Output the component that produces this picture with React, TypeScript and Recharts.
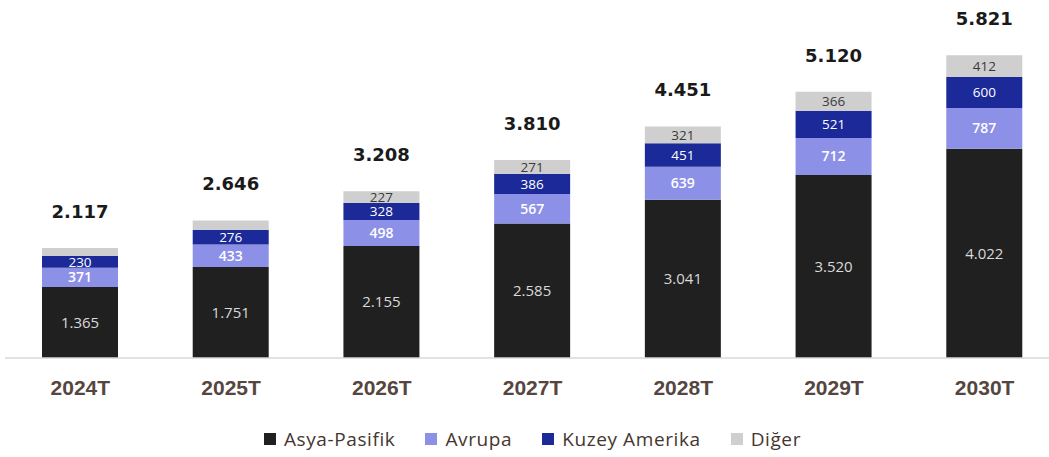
import { Bar, BarChart, LabelList, Legend, XAxis, YAxis } from "recharts";

// ─── Data ─────────────────────────────────────────────────────────────────────

const years = ["2024T", "2025T", "2026T", "2027T", "2028T", "2029T", "2030T"];
const asyaPasifik = [1365, 1751, 2155, 2585, 3041, 3520, 4022];
const avrupa = [371, 433, 498, 567, 639, 712, 787];
const kuzeyAmerika = [230, 276, 328, 386, 451, 521, 600];
const diger = [151, 186, 227, 271, 321, 366, 412];
const totals = [2117, 2646, 3208, 3810, 4451, 5120, 5821];

const data = years.map((y, i) => ({
  yil: y,
  asya: asyaPasifik[i],
  avrupa: avrupa[i],
  kuzey: kuzeyAmerika[i],
  diger: diger[i],
  total: totals[i],
}));

// ─── Helpers ──────────────────────────────────────────────────────────────────

const COLORS = {
  asya: "#202020",
  avrupa: "#8c90e6",
  kuzey: "#1b2a98",
  diger: "#d0cfcf",
};

const fmt = (v: unknown) =>
  String(v ?? "").replace(/\B(?=(\d{3})+(?!\d))/g, ".");

const innerFont = "'Open Sans', sans-serif";

const legendItems = [
  { label: "Asya-Pasifik", color: COLORS.asya },
  { label: "Avrupa", color: COLORS.avrupa },
  { label: "Kuzey Amerika", color: COLORS.kuzey },
  { label: "Diğer", color: COLORS.diger },
];

function LegendContent() {
  return (
    <div
      style={{
        height: 49,
        display: "flex",
        justifyContent: "center",
        alignItems: "flex-end",
        paddingLeft: 30,
        boxSizing: "border-box",
        paddingBottom: 5,
      }}
    >
      {legendItems.map((it) => (
        <span
          key={it.label}
          style={{
            display: "inline-flex",
            alignItems: "center",
            marginRight: 30,
            fontFamily: innerFont,
            fontSize: 19,
            letterSpacing: 0.6,
            color: "#45362f",
          }}
        >
          <span
            style={{
              width: 12,
              height: 12,
              background: it.color,
              marginRight: 8,
              display: "inline-block",
            }}
          />
          {it.label}
        </span>
      ))}
    </div>
  );
}

export default function App() {
  return (
    <div
      style={{
        position: "absolute",
        left: 0,
        top: 0,
        width: 1049,
        height: 457,
        overflow: "hidden",
        background: "#fff",
      }}
    >
      <BarChart
        width={1060}
        height={457}
        data={data}
        margin={{ top: 46, right: 0, left: 5, bottom: 0 }}
      >
        <XAxis
          dataKey="yil"
          height={50}
          tickLine={false}
          axisLine={{ stroke: "#d9d9d9", strokeWidth: 1.5 }}
          tickMargin={16}
          tick={{
            fill: "#55463f",
            fontSize: 21,
            fontWeight: 700,
            fontFamily: "'Liberation Sans', sans-serif",
          }}
          interval={0}
        />
        <YAxis hide domain={[0, 6000]} />
        <Legend verticalAlign="bottom" height={49} content={<LegendContent />} />
        <Bar dataKey="asya" stackId="a" fill={COLORS.asya} barSize={76} isAnimationActive={false}>
          <LabelList
            dataKey="asya"
            position="center"
            formatter={fmt}
            fill="#d9d9d9"
            fontSize={15}
            fontFamily={innerFont}
          />
        </Bar>
        <Bar dataKey="avrupa" stackId="a" fill={COLORS.avrupa} barSize={76} isAnimationActive={false}>
          <LabelList
            dataKey="avrupa"
            position="center"
            formatter={fmt}
            fill="#ffffff"
            fontSize={14}
            fontWeight={600}
            fontFamily={innerFont}
          />
        </Bar>
        <Bar dataKey="kuzey" stackId="a" fill={COLORS.kuzey} barSize={76} isAnimationActive={false}>
          <LabelList
            dataKey="kuzey"
            position="center"
            formatter={fmt}
            fill="#ffffff"
            fontSize={13.5}
            fontFamily={innerFont}
          />
        </Bar>
        <Bar dataKey="diger" stackId="a" fill={COLORS.diger} barSize={76} isAnimationActive={false}>
          <LabelList
            dataKey="diger"
            position="center"
            formatter={(v: unknown) => (Number(v) < 200 ? "" : fmt(v))}
            fill="#3a3a3a"
            fontSize={13.5}
            fontFamily={innerFont}
          />
          <LabelList
            dataKey="total"
            position="top"
            offset={30}
            formatter={fmt}
            fill="#1a1a1a"
            fontSize={18}
            fontWeight={700}
            fontFamily="'DejaVu Sans', sans-serif"
          />
        </Bar>
      </BarChart>
    </div>
  );
}
